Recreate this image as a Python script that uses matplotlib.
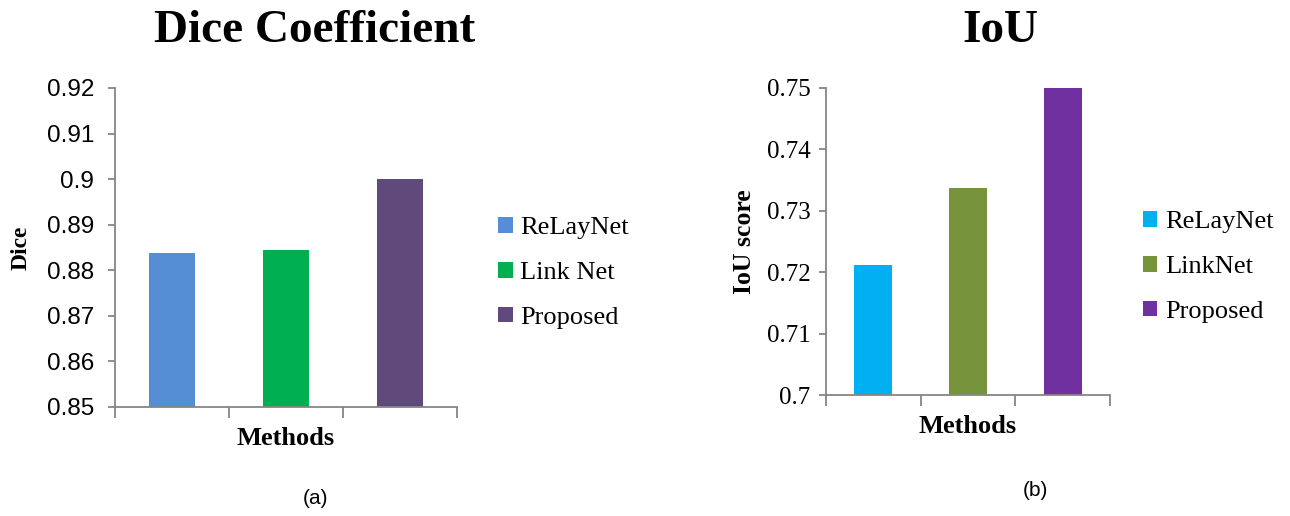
import matplotlib
matplotlib.use("Agg")
import matplotlib.pyplot as plt
import numpy as np

# Segmentation scores per method
methods_dice = ["ReLayNet", "Link Net", "Proposed"]
dice_values = [0.8837, 0.8845, 0.9000]
dice_colors = ["#558ED5", "#00B050", "#604A7B"]
dice_ticks = [0.85, 0.86, 0.87, 0.88, 0.89, 0.90, 0.91, 0.92]
dice_ticklabels = ["0.85", "0.86", "0.87", "0.88", "0.89", "0.9", "0.91", "0.92"]

methods_iou = ["ReLayNet", "LinkNet", "Proposed"]
iou_values = [0.7212, 0.7337, 0.7500]
iou_colors = ["#00B0F0", "#77933C", "#7030A0"]
iou_ticks = [0.70, 0.71, 0.72, 0.73, 0.74, 0.75]
iou_ticklabels = ["0.7", "0.71", "0.72", "0.73", "0.74", "0.75"]

SERIF = "Liberation Serif"
SANS = "Liberation Sans"
AXIS_GRAY = "#868686"

fig = plt.figure(figsize=(12.9, 5.16), dpi=100)


def draw_panel(rect, names, values, colors, ticks, ticklabels, ylabel, ylabel_size,
               ylabel_pad, title, title_x, tick_font, tick_size, tick_pad,
               bar_width, legend_anchor, tag, tag_xy):
    ax = fig.add_axes(rect)
    x = np.arange(len(values)) + 0.5
    for xi, v, c, n in zip(x, values, colors, names):
        ax.bar(xi, v - ticks[0], bottom=ticks[0], width=bar_width, color=c, label=n)
    ax.set_xlim(0, len(values))
    ax.set_ylim(ticks[0], ticks[-1])
    ax.set_yticks(ticks)
    ax.set_yticklabels(ticklabels, fontfamily=tick_font, fontsize=tick_size)
    ax.set_xticks(np.arange(len(values) + 1))
    ax.set_xticklabels([])
    for s in ["top", "right"]:
        ax.spines[s].set_visible(False)
    for s in ["left", "bottom"]:
        ax.spines[s].set_color(AXIS_GRAY)
        ax.spines[s].set_linewidth(1.3)
    ax.tick_params(axis="y", length=5, width=1.3, color=AXIS_GRAY, pad=tick_pad)
    ax.tick_params(axis="x", length=8, width=1.3, color=AXIS_GRAY)
    ax.set_ylabel(ylabel, fontfamily=SERIF, fontweight="bold",
                  fontsize=ylabel_size, labelpad=ylabel_pad)
    ax.set_xlabel("Methods", fontfamily=SERIF, fontweight="bold", fontsize=19,
                  labelpad=3)
    fig.text(title_x, 0.94, title, fontfamily=SERIF, fontweight="bold",
             fontsize=34, ha="center", va="center")
    ax.legend(loc="center left", bbox_to_anchor=legend_anchor, frameon=False,
              borderaxespad=0, borderpad=0,
              prop={"family": SERIF, "size": 19}, handlelength=0.55,
              handleheight=0.55, handletextpad=0.3, labelspacing=0.85)
    fig.text(tag_xy[0], tag_xy[1], tag, fontfamily=SANS, fontsize=15,
             ha="center", va="center")
    return ax


draw_panel([115 / 1290, 1 - 407 / 516, 342 / 1290, 319 / 516],
           methods_dice, dice_values, dice_colors, dice_ticks, dice_ticklabels,
           "Dice", 17, 11, "Dice Coefficient", 315 / 1290, SANS, 17.5, 10,
           0.41, (1.12, 0.42), "(a)", (316 / 1290, 1 - 499 / 516))

draw_panel([826 / 1290, 1 - 395 / 516, 284 / 1290, 307 / 516],
           methods_iou, iou_values, iou_colors, iou_ticks, iou_ticklabels,
           "IoU score", 18.5, 8, "IoU", 1000 / 1290, SERIF, 18, 6,
           0.40, (1.116, 0.417), "(b)", (1035 / 1290, 1 - 490 / 516))

fig.savefig("out.png", dpi=100)
